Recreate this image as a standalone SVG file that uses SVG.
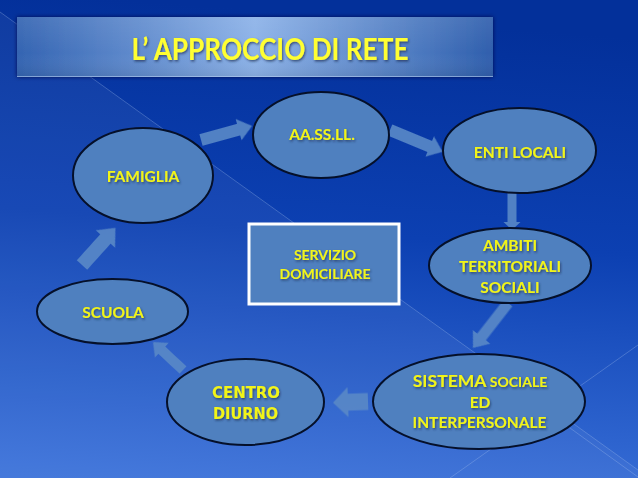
<svg xmlns="http://www.w3.org/2000/svg" width="638" height="478" viewBox="0 0 638 478">
<defs>
<linearGradient id="bg" x1="0.2" y1="0" x2="0.1" y2="1">
<stop offset="0" stop-color="#03309a"/>
<stop offset="0.45" stop-color="#0c40b2"/>
<stop offset="1" stop-color="#3b72da"/>
</linearGradient>
<linearGradient id="ban" x1="0" y1="0" x2="1" y2="0">
<stop offset="0" stop-color="#3464b2"/>
<stop offset="0.5" stop-color="#8cb2e8"/>
<stop offset="1" stop-color="#2f5fad"/>
</linearGradient>
<linearGradient id="banv" x1="0" y1="0" x2="0" y2="1">
<stop offset="0" stop-color="#ffffff" stop-opacity="0.08"/>
<stop offset="0.6" stop-color="#ffffff" stop-opacity="0"/>
<stop offset="1" stop-color="#000000" stop-opacity="0.08"/>
</linearGradient>
<filter id="sh" x="-10%" y="-30%" width="120%" height="160%">
<feDropShadow dx="1" dy="1.5" stdDeviation="0.8" flood-color="#1a2a50" flood-opacity="0.7"/>
</filter>
<filter id="bsh" x="-5%" y="-20%" width="110%" height="140%">
<feDropShadow dx="0" dy="0" stdDeviation="2" flood-color="#001040" flood-opacity="0.8"/>
</filter>
<filter id="soft" x="-20%" y="-20%" width="140%" height="140%">
<feGaussianBlur stdDeviation="0.6"/>
</filter>
<style>
.node{fill:#4f80bf;stroke:#05102a;stroke-width:2}
.box{fill:#4f80bf;stroke:#ffffff;stroke-width:3}
.t{font-family:Lato,"Liberation Sans",sans-serif;font-weight:bold;fill:#f2f514;text-anchor:middle;filter:url(#sh)}
.g{font-family:"DejaVu Sans","Liberation Sans",sans-serif;font-weight:bold;fill:#f2f514;text-anchor:middle;filter:url(#sh)}
.arr{fill:#5a88c6;fill-opacity:0.9;filter:url(#soft)}
.ln{stroke:#a8c4f0;stroke-opacity:0.3;stroke-width:1;fill:none}
</style>
</defs>
<rect x="0" y="0" width="638" height="478" fill="url(#bg)"/>
<polygon points="0,12 638,470 638,478 0,478" fill="#ffffff" fill-opacity="0.05"/>
<line class="ln" x1="0" y1="12" x2="638" y2="470"/>
<line class="ln" x1="638" y1="345" x2="450" y2="478"/>
<line class="ln" x1="520" y1="392" x2="638" y2="477"/>

<g id="title">
<rect x="17" y="17" width="476" height="60" fill="url(#ban)" filter="url(#bsh)"/>
<rect x="17" y="17" width="476" height="60" fill="url(#banv)"/>
<line x1="17" y1="76.5" x2="493" y2="76.5" stroke="#b8d0f4" stroke-opacity="0.6"/>
<text class="t" x="270" y="60" font-size="30" textLength="277" lengthAdjust="spacingAndGlyphs" style="fill:#ffff30">L’ APPROCCIO DI RETE</text>
</g>

<g id="connectors">
<path class="arr" transform="translate(201,140) rotate(-15.4)" d="M0,-6 L39,-6 L39,-11 L53,0 L39,11 L39,6 L0,6 Z"/>
<path class="arr" transform="translate(390,130) rotate(22.5)" d="M0,-6 L43,-6 L43,-11 L57,0 L43,11 L43,6 L0,6 Z"/>
<path class="arr" transform="translate(512,192) rotate(90)" d="M0,-4.5 L30,-4.5 L30,-8.5 L38,0 L30,8.5 L30,4.5 L0,4.5 Z"/>
<path class="arr" transform="translate(508,303) rotate(127.9)" d="M0,-5.5 L43,-5.5 L43,-11 L57,0 L43,11 L43,5.5 L0,5.5 Z"/>
<path class="arr" transform="translate(368,401.5) rotate(178)" d="M0,-8.5 L20,-8.5 L20,-15 L35,0 L20,15 L20,8.5 L0,8.5 Z"/>
<path class="arr" transform="translate(183,370) rotate(-137)" d="M0,-5 L29,-5 L29,-10 L41,0 L29,10 L29,5 L0,5 Z"/>
<path class="arr" transform="translate(82,265) rotate(-48)" d="M0,-7 L35,-7 L35,-13 L50,0 L35,13 L35,7 L0,7 Z"/>
</g>

<g id="famiglia">
<ellipse class="node" cx="143" cy="175.5" rx="70" ry="47.5"/>
<text class="t" x="143" y="182" font-size="15.5">FAMIGLIA</text>
</g>
<g id="aassll">
<ellipse class="node" cx="321" cy="135" rx="68" ry="43"/>
<text class="t" x="322" y="140" font-size="15.5">AA.SS.LL.</text>
</g>
<g id="enti-locali">
<ellipse class="node" cx="519.5" cy="150.5" rx="76.5" ry="42.5"/>
<text class="t" x="520" y="158" font-size="15.5">ENTI LOCALI</text>
</g>
<g id="ambiti">
<ellipse class="node" cx="510" cy="265.5" rx="81" ry="37.5"/>
<text class="t" x="510" y="251" font-size="15.5">AMBITI</text>
<text class="t" x="510" y="272" font-size="15.5">TERRITORIALI</text>
<text class="t" x="510" y="292.5" font-size="15.5">SOCIALI</text>
</g>
<g id="servizio">
<rect class="box" x="249" y="224" width="150" height="80"/>
<text class="t" x="325" y="260" font-size="14">SERVIZIO</text>
<text class="t" x="325" y="279" font-size="14">DOMICILIARE</text>
</g>
<g id="scuola">
<ellipse class="node" cx="112.5" cy="311.5" rx="75.5" ry="32.5"/>
<text class="t" x="113" y="318" font-size="15.5">SCUOLA</text>
</g>
<g id="centro">
<ellipse class="node" cx="245.5" cy="402" rx="78.5" ry="43"/>
<text class="g" x="246" y="398" font-size="16" textLength="68" lengthAdjust="spacingAndGlyphs">CENTRO</text>
<text class="g" x="245.5" y="419" font-size="16" textLength="65" lengthAdjust="spacingAndGlyphs">DIURNO</text>
</g>
<g id="sistema">
<ellipse class="node" cx="479" cy="401.5" rx="106" ry="47.5"/>
<text class="t" x="480" y="387" font-size="16"><tspan font-size="17.5">SISTEMA</tspan><tspan font-size="14"> SOCIALE</tspan></text>
<text class="t" x="480" y="408" font-size="15.5">ED</text>
<text class="t" x="479.5" y="428" font-size="15.5">INTERPERSONALE</text>
</g>
</svg>
